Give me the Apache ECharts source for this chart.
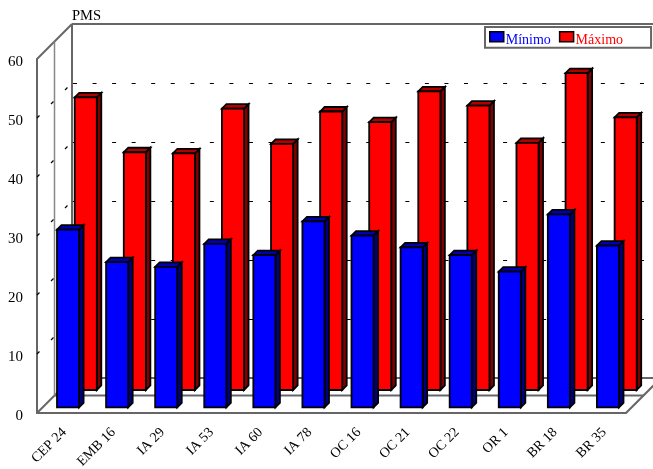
<!DOCTYPE html>
<html><head><meta charset="utf-8">
<style>html,body{margin:0;padding:0;background:#fff}#c{width:653px;height:469px}</style>
<script src="https://cdn.jsdelivr.net/npm/echarts@6/dist/echarts.min.js"></script>
</head><body><div id="c"></div>
<script>
const categories = ['CEP 24','EMB 16','IA 29','IA 53','IA 60','IA 78','OC 16','OC 21','OC 22','OR 1','BR 18','BR 35'];
const minimo = [30.1,24.6,23.8,27.7,25.8,31.5,29.1,27.1,25.8,23.0,32.7,27.4];
const maximo = [49.6,40.3,40.1,47.7,41.7,47.2,45.4,50.6,48.2,41.9,53.7,46.2];
const gridValues = [10,20,30,40,50];
const FONT = '"Liberation Serif","Times New Roman",serif';
const chart = echarts.init(document.getElementById('c'), null, {renderer:'canvas'});
const DEPTH = 35, FRAME = '#666666';

function barRender(dx, lift, depth, front, side, top) {
  return function (params, api) {
    const base = api.coord([api.value(0), 0]);
    const tip = api.coord([api.value(0), api.value(1)]);
    const w = api.size([1, 0])[0] * 0.45;
    const xl = base[0] + dx - w / 2, xr = xl + w;
    const yb = base[1] - lift, yt = tip[1] - lift;
    const edge = {stroke:'#000', lineWidth:1.8, lineJoin:'miter'};
    return {type:'group', children:[
      {type:'polygon', shape:{points:[[xr,yt],[xr+depth,yt-depth],[xr+depth,yb-depth],[xr,yb]]}, style:Object.assign({fill:side},edge)},
      {type:'polygon', shape:{points:[[xl,yt],[xl+depth,yt-depth],[xr+depth,yt-depth],[xr,yt]]}, style:Object.assign({fill:top},edge)},
      {type:'rect', shape:{x:xl,y:yt,width:w,height:yb-yt}, style:Object.assign({fill:front},edge)}
    ]};
  };
}

function frameRender(params, api) {
  const o = api.coord([0, 0]);
  const left = o[0] - api.size([1,0])[0] / 2;
  const right = left + api.size([1,0])[0] * 12;
  const y0 = o[1];
  const yTop = api.coord([0, 60])[1];
  const kids = [];
  const line = (x1,y1,x2,y2,w,c) => kids.push({type:'line', shape:{x1,y1,x2,y2}, style:{stroke:c||FRAME, lineWidth:w||2}});
  const h = DEPTH / 2;
  // floor
  line(left,y0,left+DEPTH,y0-DEPTH);
  line(right,y0,right+DEPTH,y0-DEPTH);
  line(left+h,y0-h,right+h,y0-h,2);
  line(left+DEPTH,y0-DEPTH,right+DEPTH,y0-DEPTH);
  // walls
  line(left,yTop,left+DEPTH,yTop-DEPTH);
  line(left+h,y0-h,left+h,yTop-h,1.5,'#888');
  line(left+DEPTH,y0-DEPTH,left+DEPTH,yTop-DEPTH);
  line(left+DEPTH,yTop-DEPTH,right+DEPTH,yTop-DEPTH);
  // gridlines
  gridValues.forEach(v => {
    const y = Math.round(api.coord([0, v])[1]);
    const dash = {stroke:'#000', lineWidth:1.2, lineDash:[4,15.55]};
    kids.push({type:'line', shape:{x1:left,y1:y,x2:left+DEPTH,y2:y-DEPTH}, style:Object.assign({},dash,{lineDash:[3.5,16.3]})});
    kids.push({type:'line', shape:{x1:left+DEPTH+1,y1:y-DEPTH+0.5,x2:right+DEPTH,y2:y-DEPTH+0.5}, style:dash});
  });
  return {type:'group', children:kids};
}

chart.setOption({
  animation:false,
  backgroundColor:'#fff',
  title:{text:'PMS', left:72, top:9, padding:0, textStyle:{fontFamily:FONT, fontSize:14.5, fontWeight:'normal', color:'#000'}},
  legend:{
    show:true, left:485, top:27, width:150, orient:'horizontal', icon:'rect',
    itemWidth:14, itemHeight:10, itemGap:8,
    padding:[4,28,0,4], backgroundColor:'#fff', borderColor:FRAME, borderWidth:2, borderRadius:0,
    selectedMode:false,
    formatter:function(n){ return (n==='Mínimo'?'{b|':'{r|')+n+'}'; },
    textStyle:{fontFamily:FONT, fontSize:14, padding:[0,0,0,-3], rich:{
      b:{color:'#0000ff',fontFamily:FONT,fontSize:14,padding:[8,0,0,0]},
      r:{color:'#ff0000',fontFamily:FONT,fontSize:14,padding:[8,0,0,0]}
    }},
    data:[
      {name:'Mínimo', icon:'rect', itemStyle:{color:'#0000ff',borderColor:'#000',borderWidth:1.5}},
      {name:'Máximo', icon:'rect', itemStyle:{color:'#ff0000',borderColor:'#000',borderWidth:1.5}}
    ]
  },
  grid:{left:37, top:59, width:589, height:354, containLabel:false, outerBoundsMode:'none'},
  xAxis:{type:'category', data:categories, boundaryGap:true,
    axisLine:{show:true, lineStyle:{color:FRAME,width:2}}, axisTick:{show:false}, splitLine:{show:false},
    axisLabel:{interval:0, rotate:45, margin:20, padding:[0,-4,0,0], fontFamily:FONT, fontSize:14, color:'#000', hideOverlap:false}},
  yAxis:{type:'value', min:0, max:60, interval:10,
    axisLine:{show:true, lineStyle:{color:FRAME,width:2}}, axisTick:{show:false}, splitLine:{show:false},
    axisLabel:{margin:14, fontFamily:FONT, fontSize:15, color:'#000', verticalAlign:'top', lineHeight:6}},
  series:[
    {name:'frame', type:'custom', z:1, silent:true, clip:false, data:[[0,0]], encode:{x:0,y:1}, renderItem:frameRender},
    {name:'Máximo', type:'custom', z:2, clip:false, data:maximo.map((v,i)=>[i,v]), encode:{x:0,y:1},
      itemStyle:{color:'#ff0000'}, renderItem:barRender(24.2,23,4.5,'#ff0000','#7f0000','#b00000')},
    {name:'Mínimo', type:'custom', z:3, clip:false, data:minimo.map((v,i)=>[i,v]), encode:{x:0,y:1},
      itemStyle:{color:'#0000ff'}, renderItem:barRender(6.5,5.7,4.5,'#0000ff','#00007f','#0000b0')}
  ]
});
</script></body></html>
